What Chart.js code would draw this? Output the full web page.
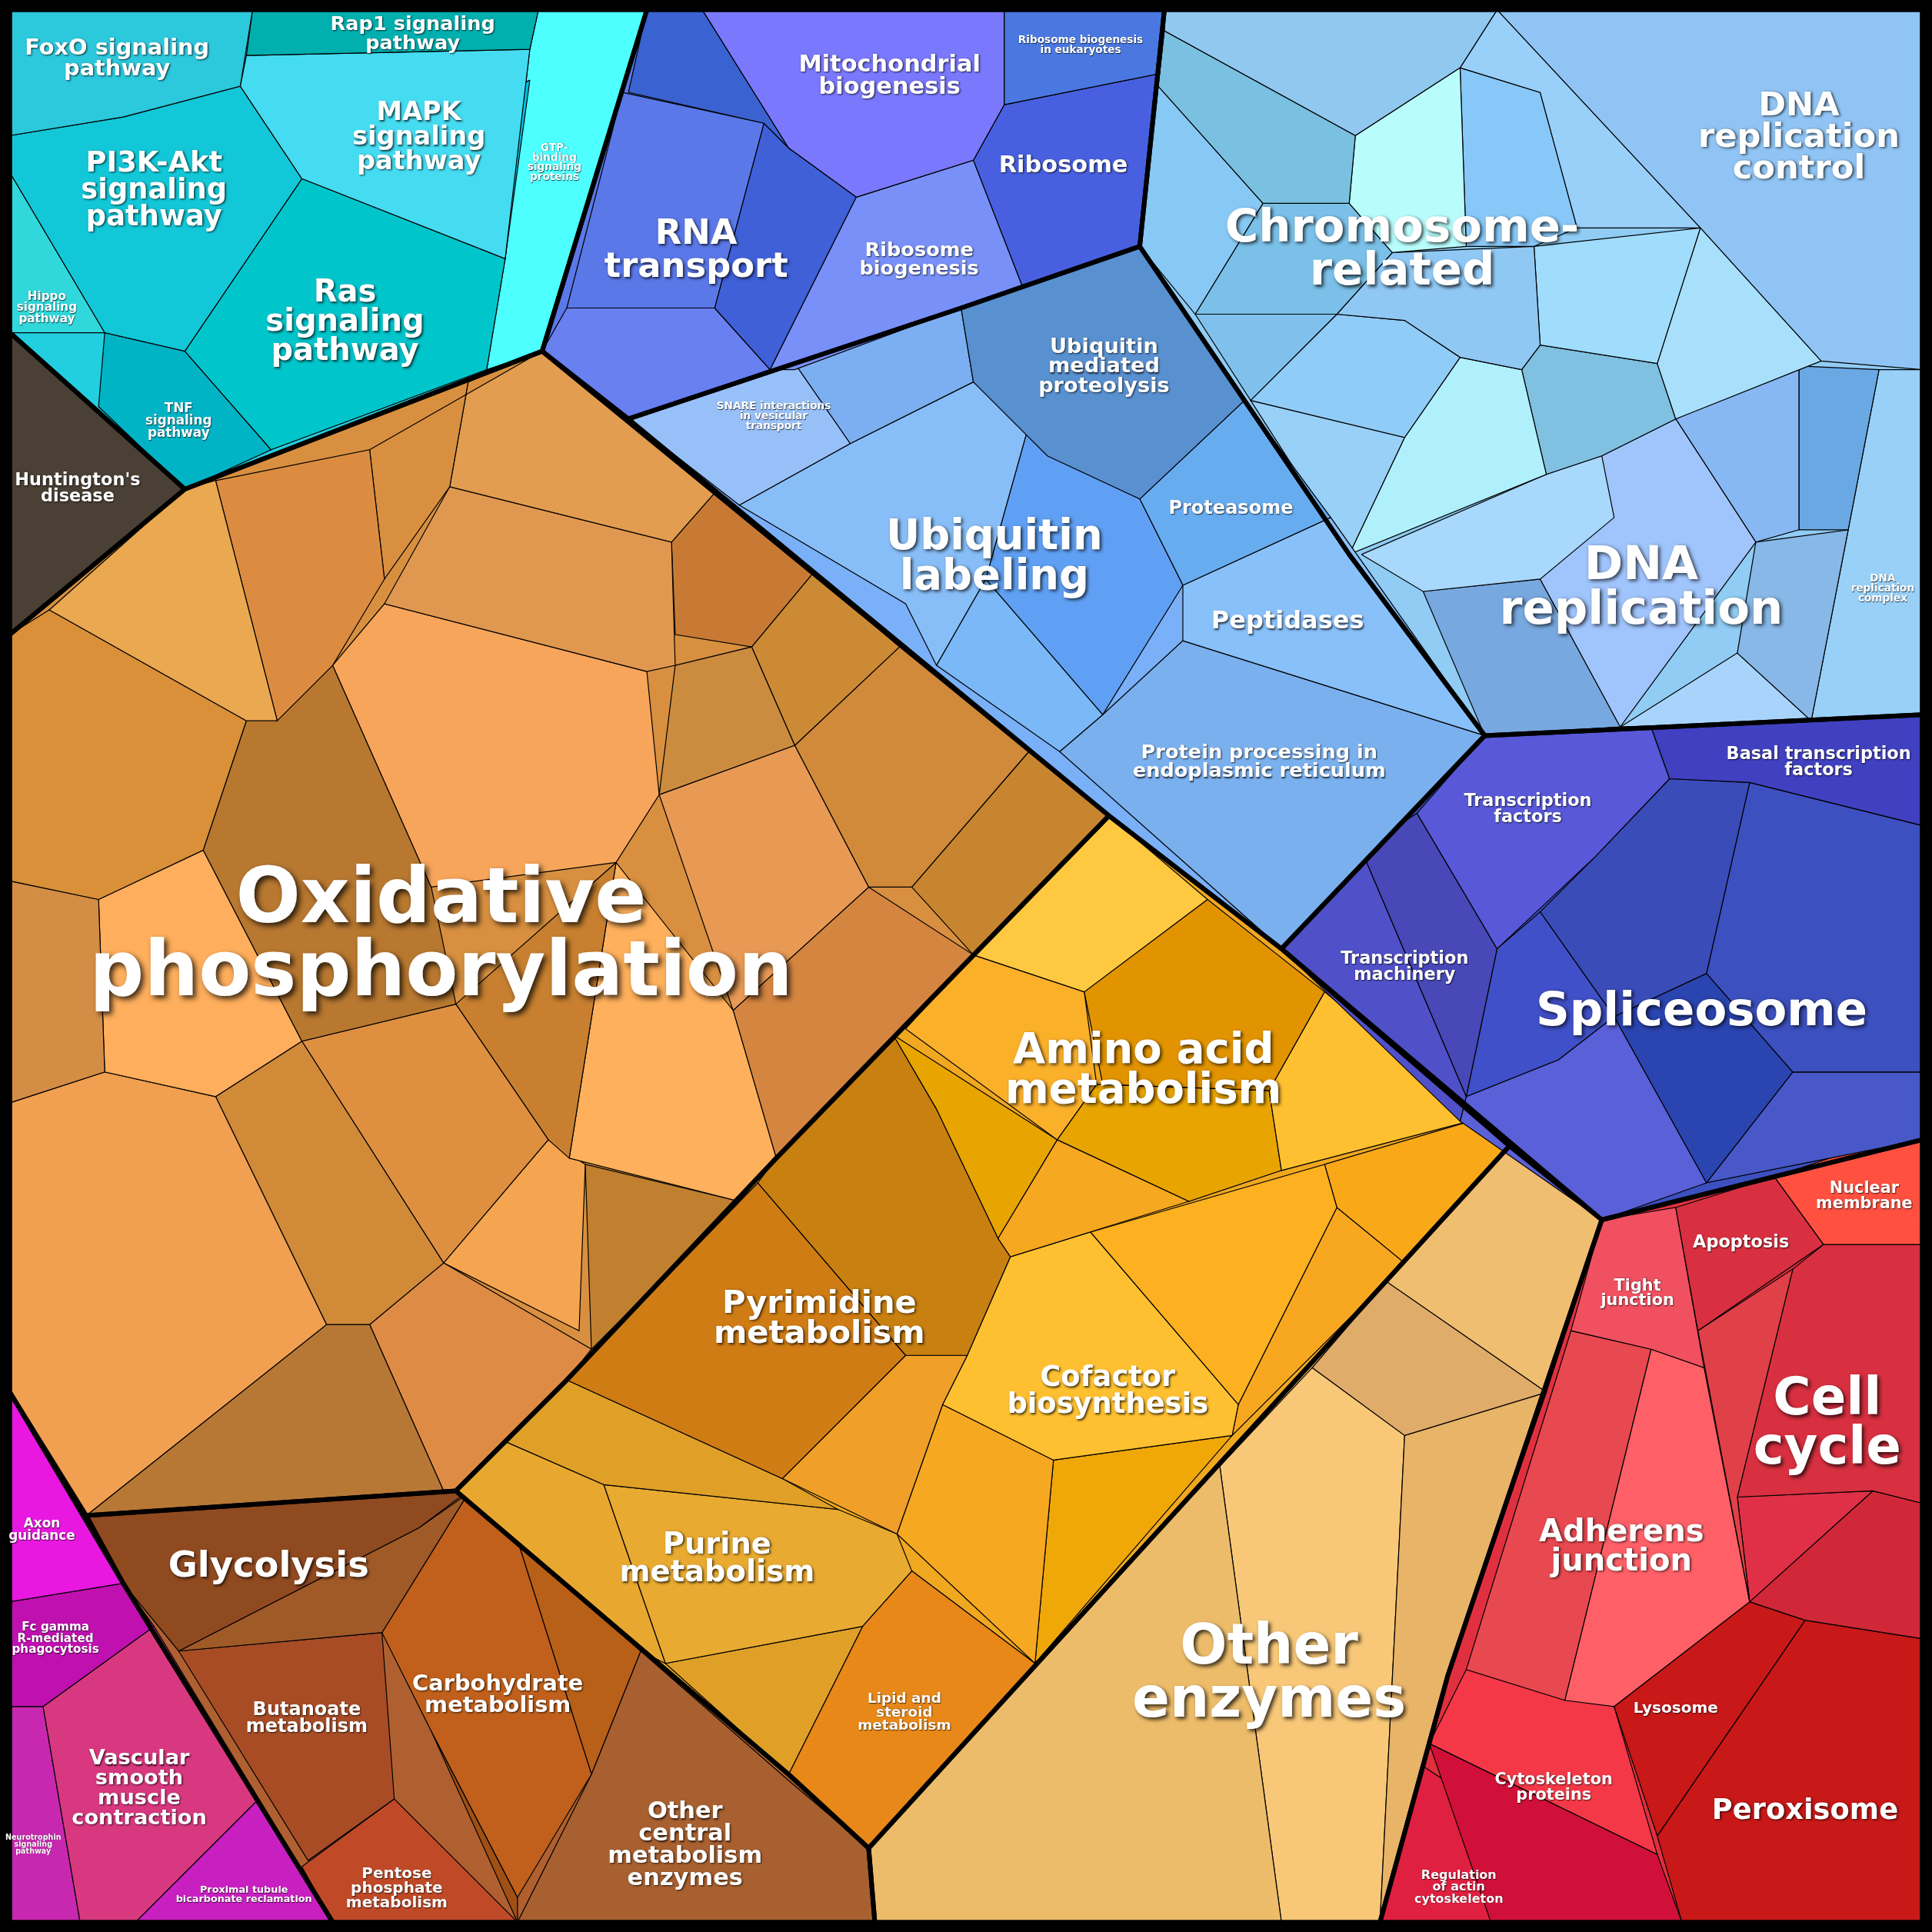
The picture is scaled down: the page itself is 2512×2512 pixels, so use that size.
<!DOCTYPE html>
<html><head><meta charset="utf-8">
<script src="https://cdn.jsdelivr.net/npm/chart.js@4.4.1/dist/chart.umd.min.js"></script>
<style>html,body{margin:0;padding:0;background:#000}#w{width:2512px;height:2512px}</style>
</head><body><div id="w"><canvas id="c"></canvas></div>
<script>
const groupNames=["Signaling","Huntington","OxPhos","RNA","Chromosome","Ubiquitin","Spliceosome","AminoAcid","OtherEnz","Red","Carb","Magenta"];
const groupColors=["#22cfe0","#4a4035","#d89040","#5a78e8","#90ccf4","#7ab0f8","#3c50c0","#f0a820","#f0be70","#e03040","#b06030","#e018e0"];
const groupPolys=[
[8,8,525,8,440,285,150,397,8,270],
[8,270,150,397,8,515],
[8,515,150,397,440,285,900,662,630,940,460,1120,370,1210,70,1230,8,1130],
[525,8,945,8,925,200,780,250,510,340,440,285],
[945,8,1560,8,1560,580,1205,597,1095,450,925,200],
[925,200,1095,450,1205,597,1040,770,900,662,510,340,780,250],
[1205,597,1560,580,1560,925,1300,990,1040,770],
[900,662,1040,770,1225,930,705,1500,640,1440,370,1210,460,1120,630,940],
[1225,930,1300,990,1175,1360,1120,1560,710,1560,705,1500],
[1300,990,1560,925,1560,1560,1120,1560,1175,1360],
[70,1230,370,1210,640,1440,705,1500,710,1560,270,1560,100,1285],
[8,1130,100,1285,270,1560,8,1560]];
const cellColors=[
"#2cc8dc","#00afae","#45dcf2","#00c4e4","#12c8d8","#00c6cc","#30d8dc","#00b4c6","#4dffff",
"#eaa850","#dc8c40","#d89040","#e29d50","#e09850","#f7a55a","#b87830","#d99038","#d48d45","#feae5c","#f0a050","#d08a38","#de9040","#c88030","#e89a55","#feb05c","#d48540","#cc8c40","#c87a35","#cc8a35","#d08a3a","#c88530","#b87835","#de8c45","#f5a550","#c08030",
"#7a78fc","#6a70f0","#4a78e0","#4860e0","#7890f8","#3a62d0","#5a78e8","#4060d8","#6880f0",
"#5890d0","#98c0f8","#7caef2","#88bef8","#60a0f4","#7ab8f8","#68acf0","#88c0fa","#7ab0ee",
"#90c8f0","#7ac0e0","#b8fcfc","#98d0fa","#88c8f8","#88c8f4","#7ac0e8","#80c0ec","#90c8f4","#a0dcfc","#a8e0fc","#90ccf8","#98d0f8","#b0f0fc","#80c0e0","#90c4f4","#a8d8fc","#a0c4fc","#88b8f4","#6aa8e4","#88b8e8","#78a8e0","#a8d4fc","#98d0f8",
"#4040c0","#5858d8","#4848b8","#5050c8","#3a4cb8","#3c50c0","#2a44b0","#4050c8","#5a60d8","#4858c8",
"#fec840","#e29400","#fbb02a","#e8a400","#fec030","#e8a400","#f5a820","#c88010","#d07c14","#f0a028","#fec030","#fdb020","#f9a818","#f8a820","#f5a820","#f0a808","#e8a830","#e0a028","#e8aa30","#e0a028","#e88818","#e88a08",
"#e0ac6a","#f0be70","#e8b468","#ecbc6a","#f8c878",
"#ff5040","#d83040","#f05060","#e04048","#d83040","#e03048","#d02838","#e84850","#ff6068","#c81818","#c81818","#f53848","#d01038","#e02040",
"#904a20","#a05a28","#a84c25","#c04a28","#c0601c","#b86018","#a05014","#a86030",
"#e818e0","#c010b0","#d83880","#c828b0","#c820c0"];
const cellPolys=[
[8,8,205,8,195,70,100,95,8,110],[205,8,437,8,430,40,200,45],[200,45,430,40,410,210,245,145,195,70],[430,65,410,210,330,170,360,100],[8,110,100,95,195,70,245,145,150,285,85,270,8,140],[245,145,410,210,395,300,220,365,150,285],[8,140,85,270,8,270],[85,270,150,285,220,365,150,397,80,330],[437,8,525,8,440,285,395,300,410,210,430,40],
[150,397,175,390,225,585,200,585,40,495],[175,390,300,365,312,470,270,540,225,585],[300,365,440,285,380,310,365,395,312,470],[380,310,440,285,580,400,545,440,365,395],[365,395,545,440,548,540,525,545,312,490],[312,490,525,545,535,645,500,700,350,720,270,540],[200,585,270,540,350,720,370,815,245,845,165,690],[8,515,40,495,200,585,165,690,80,730,8,715],[8,715,80,730,85,870,8,895],[80,730,165,690,245,845,175,890,85,870],[8,895,85,870,175,890,265,1075,70,1230,8,1130],[175,890,245,845,360,1025,300,1075,265,1075],[245,845,370,815,445,925,360,1025],[370,815,500,700,462,940,445,925],[535,645,645,605,705,720,595,820],[462,940,500,700,595,820,630,940,600,975],[595,820,705,720,790,775,630,940],[548,540,610,525,645,605,535,645],[545,440,580,400,660,465,610,525,548,515],[610,525,660,465,730,525,645,605],[645,605,730,525,835,610,740,720,705,720],[740,720,835,610,900,662,790,775],[265,1075,300,1075,360,1210,70,1230],[300,1075,360,1025,480,1095,460,1120,370,1210,360,1210],[360,1025,445,925,475,945,470,1080],[475,945,600,975,480,1095],
[570,8,815,8,815,85,790,130,695,160,640,120],[740,30,815,85,790,130,695,160],[815,8,945,8,940,60,815,85],[815,85,940,60,925,200,830,233,790,130],[695,160,790,130,830,233,780,250,645,300,625,300],[525,8,570,8,640,120,620,100,510,75],[505,75,620,100,580,250,460,250],[620,100,640,120,695,160,625,300,580,250],[460,250,580,250,625,300,510,340,440,285],
[780,250,925,200,1010,325,925,405,850,370,790,310],[510,340,645,295,690,360,600,410],[645,295,780,250,790,310,690,360],[600,410,690,360,790,310,835,345,800,470,760,540,735,490],[835,345,925,405,960,475,895,580,800,470],[760,540,800,470,895,580,860,610],[925,405,1010,325,1080,420,960,475],[960,475,1080,420,1205,597,960,520],[960,520,1205,597,1040,770,860,610,895,580],
[945,8,1215,8,1185,55,1100,110,945,25],[945,25,1100,110,1095,165,1025,165,940,70],[1100,110,1185,55,1190,200,1130,205,1095,165],[1215,8,1380,185,1280,185,1250,75,1185,55],[1250,75,1280,185,1245,200,1190,200,1185,55],[940,70,1025,165,970,255,925,200],[1025,165,1095,165,1130,205,1085,255,970,255],[970,255,1085,255,1015,325],[1130,205,1245,200,1250,280,1235,300,1185,290,1140,260,1085,255],[1245,200,1380,185,1345,295,1250,280],[1380,185,1478,293,1360,340,1345,295],[1085,255,1140,260,1185,290,1140,355,1015,325],[1015,325,1140,355,1095,450],[1140,355,1185,290,1235,300,1255,385,1095,450],[1235,300,1250,280,1345,295,1360,340,1300,370,1255,385],[1215,8,1560,8,1560,300,1478,293,1380,185],[1105,450,1255,385,1300,370,1310,420,1250,470,1155,480],[1300,370,1360,340,1425,440,1315,590,1250,470],[1360,340,1460,297,1460,430,1425,440],[1460,297,1525,300,1500,430,1460,430],[1425,440,1500,430,1470,585,1410,530],[1155,480,1250,470,1315,590,1205,597],[1315,590,1410,530,1470,585],[1525,300,1560,300,1560,580,1470,585,1500,430],
[1340,590,1560,580,1560,670,1420,635,1355,632],[1205,597,1340,590,1355,632,1295,695,1215,770,1150,660],[1150,660,1215,770,1190,890,1105,690],[1040,770,1105,690,1190,890,1185,910],[1295,695,1355,632,1420,635,1385,790,1310,825,1250,740],[1420,635,1560,670,1560,870,1455,870,1385,790],[1310,825,1385,790,1455,870,1385,960],[1215,770,1250,740,1310,825,1265,860,1190,890],[1190,890,1265,860,1310,825,1385,960,1300,990,1185,910],[1455,870,1560,870,1560,925,1385,960],
[790,775,900,662,980,730,880,805],[880,805,980,730,1075,805,1030,885,895,880],[735,835,790,775,880,805,890,880,858,925],[725,840,858,925,810,1005,760,900],[1075,805,1200,908,1040,950,1030,885],[858,925,890,880,1030,885,1040,950,965,975],[810,1005,858,925,965,975,820,1020],[630,940,725,840,760,900,810,1005,820,1020,785,1100,735,1100,615,960],[460,1120,615,960,735,1100,635,1200],[635,1200,735,1100,785,1100,765,1140,728,1245],[820,1020,885,1000,1005,1140,1000,1165,855,1185,765,1140,785,1100],[885,1000,1075,945,1085,980,1005,1140],[1075,945,1200,908,1225,930,1140,1025,1085,980],[1085,980,1140,1025,1000,1165,1005,1140],[765,1140,855,1185,840,1350,728,1245],[855,1185,1000,1165,840,1350],[370,1210,410,1170,490,1205,540,1350,520,1340],[410,1170,460,1120,635,1200,680,1225,490,1205],[490,1205,680,1225,728,1245,740,1275,700,1320,540,1350],[540,1350,700,1320,640,1440],[640,1440,700,1320,740,1275,840,1350,705,1500],[740,1275,840,1350,770,1400],
[1065,1110,1125,1040,1255,1130,1140,1165],[1125,1040,1225,930,1300,990,1255,1130],[1140,1165,1255,1130,1175,1360,1120,1560],[705,1500,840,1350,990,1190,1040,1560,710,1560],[990,1190,1065,1110,1140,1165,1120,1560,1040,1560],
[1440,955,1530,925,1560,925,1560,1010,1480,1010],[1360,980,1440,955,1480,1010,1378,1080],[1300,990,1360,980,1383,1110,1340,1095,1275,1080],[1378,1080,1455,1030,1410,1215,1420,1300],[1455,1030,1480,1010,1560,1010,1560,1220,1520,1210,1410,1215],[1410,1215,1520,1210,1420,1300],[1520,1210,1560,1220,1560,1330,1465,1315,1420,1300],[1275,1080,1340,1095,1270,1380,1190,1355],[1340,1095,1383,1110,1420,1300,1310,1385,1270,1380],[1310,1385,1420,1300,1465,1315,1345,1490],[1345,1490,1465,1315,1560,1330,1560,1560,1365,1560],[1190,1355,1310,1385,1345,1505,1160,1415],[1160,1415,1345,1505,1365,1560,1210,1560],[1150,1430,1240,1490,1210,1560,1120,1560],
[70,1230,380,1210,340,1240,145,1340,100,1285],[145,1340,340,1240,380,1212,310,1325],[145,1340,310,1325,320,1460,250,1510],[245,1515,320,1460,420,1560,270,1560],[310,1325,380,1212,420,1250,480,1440,420,1540,350,1405],[420,1250,520,1340,480,1440],[350,1405,420,1540,420,1560],[480,1440,520,1340,640,1445,705,1500,710,1560,420,1560],
[8,1130,100,1285,8,1300],[8,1300,100,1285,125,1320,35,1385,8,1385],[35,1385,125,1320,210,1460,110,1560,65,1560],[8,1385,35,1385,65,1560,8,1560],[110,1560,210,1460,270,1560]];
const labelTexts=["FoxO signaling\npathway","Rap1 signaling\npathway","MAPK\nsignaling\npathway","PI3K-Akt\nsignaling\npathway","Ras\nsignaling\npathway","Hippo\nsignaling\npathway","TNF\nsignaling\npathway","GTP-\nbinding\nsignaling\nproteins","Huntington's\ndisease","Oxidative\nphosphorylation","RNA\ntransport","Mitochondrial\nbiogenesis","Ribosome biogenesis\nin eukaryotes","Ribosome","Ribosome\nbiogenesis","Chromosome-\nrelated","DNA\nreplication\ncontrol","DNA\nreplication","DNA\nreplication\ncomplex","Ubiquitin\nmediated\nproteolysis","SNARE interactions\nin vesicular\ntransport","Ubiquitin\nlabeling","Proteasome","Peptidases","Protein processing in\nendoplasmic reticulum","Basal transcription\nfactors","Transcription\nfactors","Transcription\nmachinery","Spliceosome","Amino acid\nmetabolism","Pyrimidine\nmetabolism","Cofactor\nbiosynthesis","Purine\nmetabolism","Lipid and\nsteroid\nmetabolism","Other\nenzymes","Nuclear\nmembrane","Apoptosis","Tight\njunction","Cell\ncycle","Adherens\njunction","Lysosome","Cytoskeleton\nproteins","Peroxisome","Regulation\nof actin\ncytoskeleton","Glycolysis","Butanoate\nmetabolism","Carbohydrate\nmetabolism","Pentose\nphosphate\nmetabolism","Other\ncentral\nmetabolism\nenzymes","Axon\nguidance","Fc gamma\nR-mediated\nphagocytosis","Vascular\nsmooth\nmuscle\ncontraction","Neurotrophin\nsignaling\npathway","Proximal tubule\nbicarbonate reclamation"];
const labelX=[95,335,340,125,280,38,145,450,63,358,565,722,877,863,746,1138,1460,1332,1528,896,628,807,999,1045,1022,1476,1240,1140,1381,928,665,899,582,734,1030,1513,1413,1329,1483,1316,1360,1261,1465,1184,218,249,404,322,556,34,45,113,27,198];
const labelY=[48,28,112,155,262,250,342,132,397,762,204,62,37,135,211,204,112,478,478,298,338,453,413,505,619,619,657,785,822,870,1071,1130,1266,1390,1360,971,1009,1050,1157,1256,1387,1451,1470,1532,1272,1395,1376,1533,1498,1242,1330,1452,1497,1538];
const labelSizes=[18,16,21,23,25,9.5,10.5,8.5,14,62,28,19,8.5,19,16,37,27,38,8.5,17,8.5,34,15,20,16,14,14,14,38,34,26,23,24,11.5,45,13,14,13,42,25,12.5,13,23,10,29,15,18,12.5,19,10.5,9.5,17,6,8];

function toPts(f){const p=[];for(let i=0;i<f.length;i+=2)p.push({x:f[i],y:f[i+1]});p.push({x:f[0],y:f[1]});return p;}
const ds=[];
groupPolys.forEach((g,i)=>ds.push({data:toPts(g),backgroundColor:groupColors[i],borderColor:groupColors[i],borderWidth:1,fill:'shape',showLine:true,pointRadius:0,tension:0,order:30}));
cellPolys.forEach((c,i)=>ds.push({data:toPts(c),backgroundColor:cellColors[i],borderColor:'#000',borderWidth:1.2,fill:'shape',showLine:true,pointRadius:0,tension:0,order:20}));
groupPolys.forEach((g,i)=>ds.push({data:toPts(g),borderColor:'#000',borderWidth:6,fill:false,showLine:true,pointRadius:0,tension:0,borderJoinStyle:'round',order:10}));
const labelPlugin={id:'labels',afterDatasetsDraw(ch){const ctx=ch.ctx,xs=ch.scales.x,ys=ch.scales.y;const k=xs.getPixelForValue(1)-xs.getPixelForValue(0);
ctx.save();ctx.textAlign='center';ctx.textBaseline='middle';
labelTexts.forEach((t,i)=>{const lines=t.split('\n');const s=labelSizes[i]*k;ctx.font='bold '+s+'px "DejaVu Sans"';const lh=s*0.95;
const cx=xs.getPixelForValue(labelX[i]),cy=ys.getPixelForValue(labelY[i]);
lines.forEach((l,j)=>{const y=cy+(j-(lines.length-1)/2)*lh;ctx.shadowColor='rgba(0,0,0,0.75)';ctx.shadowBlur=s*0.08;ctx.shadowOffsetX=s*0.04;ctx.shadowOffsetY=s*0.04;ctx.fillStyle='#fff';ctx.fillText(l,cx,y);});});
ctx.restore();}};
new Chart(document.getElementById('c'),{type:'scatter',data:{datasets:ds},plugins:[labelPlugin],
options:{responsive:true,maintainAspectRatio:false,devicePixelRatio:1,animation:false,layout:{padding:0},
plugins:{legend:{display:false},tooltip:{enabled:false}},
scales:{x:{type:'linear',min:0,max:1568,display:false},y:{type:'linear',min:0,max:1568,reverse:true,display:false}}}});
</script></body></html>
